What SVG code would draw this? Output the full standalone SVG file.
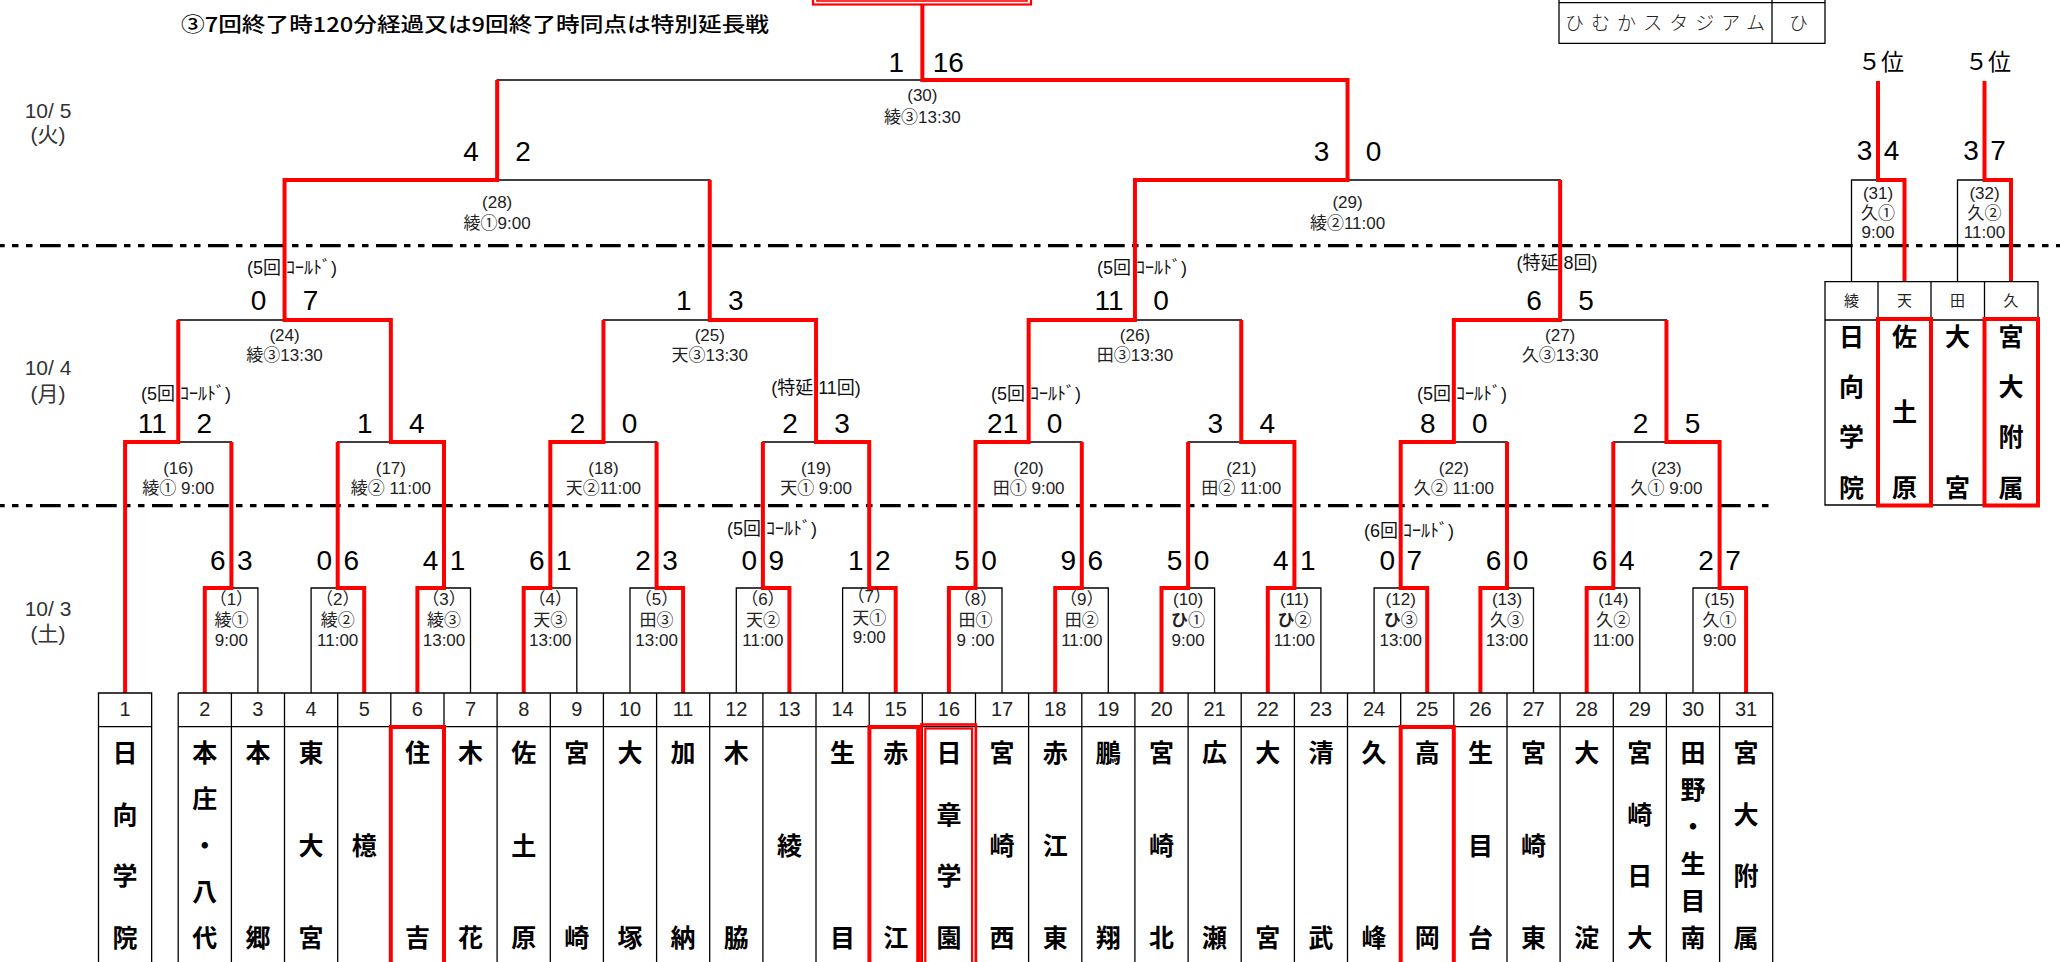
<svg xmlns="http://www.w3.org/2000/svg" width="2060" height="962" viewBox="0 0 2060 962">
<style>
.k{stroke:#000;stroke-width:1.3;fill:none}
.r{stroke:#ff0000;stroke-width:4;fill:none;stroke-linejoin:miter}
.dd{stroke:#000;stroke-width:3.3;fill:none;stroke-dasharray:20.7 7.3 6.5 7.5 6.5 7.5;stroke-dashoffset:16}
.sc{font-family:"Liberation Sans","Noto Sans CJK JP",sans-serif;font-size:28px;text-anchor:middle;fill:#000}
.lb{font-family:"Liberation Sans","Noto Sans CJK JP",sans-serif;font-size:17px;text-anchor:middle;fill:#222}
.an{font-family:"Liberation Sans","Noto Sans CJK JP",sans-serif;font-size:18px;text-anchor:middle;fill:#111}
.dt{font-family:"Liberation Sans","Noto Sans CJK JP",sans-serif;font-size:21px;text-anchor:middle;fill:#333}
.tm{font-family:"Noto Sans CJK JP",sans-serif;font-size:25px;font-weight:700;text-anchor:middle;fill:#000}
.nm{font-family:"Liberation Sans",sans-serif;font-size:20px;text-anchor:middle;fill:#222}
.hd{font-family:"Noto Sans CJK JP",sans-serif;font-size:15px;text-anchor:middle;fill:#222}
.bx{fill:none;stroke:#000;stroke-width:1.3}
.rb{fill:none;stroke:#ff0000;stroke-width:4}
</style>
<rect width="2060" height="962" fill="#fff"/>

<g id="note">
<text x="181" y="32" font-family="'Noto Sans CJK JP',sans-serif" font-size="20" font-weight="500" textLength="588" lengthAdjust="spacingAndGlyphs">③7回終了時120分経過又は9回終了時同点は特別延長戦</text>
</g>
<g id="dates">
<text class="dt" x="48" y="118">10/ 5</text><text class="dt" x="48" y="142">(火)</text>
<text class="dt" x="48" y="375">10/ 4</text><text class="dt" x="48" y="401">(月)</text>
<text class="dt" x="48" y="616">10/ 3</text><text class="dt" x="48" y="641">(土)</text>
</g>
<g id="dividers">
<line class="dd" x1="0" y1="245.7" x2="2060" y2="245.7"/>
<line class="dd" x1="0" y1="505.7" x2="1769" y2="505.7"/>
</g>

<g id="legend">
<path class="bx" d="M1559,0V43.3H1825V0M1772,0V43.3M1559,2.7H1825"/>
<text x="1565" y="30" font-family="'Noto Sans CJK JP',sans-serif" font-size="19" font-weight="300" fill="#222" textLength="200" lengthAdjust="spacing">ひむかスタジアム</text>
<text x="1798.6" y="30" font-family="'Noto Sans CJK JP',sans-serif" font-size="19" font-weight="300" fill="#222" text-anchor="middle">ひ</text>
</g>

<g id="champion">
<rect x="813" y="-30" width="218" height="34.5" fill="none" stroke="#ff0000" stroke-width="2.2"/>
<rect x="817" y="-30" width="210" height="31" fill="none" stroke="#ff0000" stroke-width="1.6"/>
</g>

<g id="connectors">
<g id="black-lines">
<path class="k" d="M204.8,693V588H257.9V693M311.1,693V588H364.2V693M417.4,693V588H470.5V693M523.7,693V588H576.8V693M630,693V588H683.1V693M736.3,693V588H789.4V693M842.6,693V588H895.7V693M948.9,693V588H1002V693M1055.2,693V588H1108.3V693M1161.5,693V588H1214.6V693M1267.8,693V588H1320.9V693M1374.1,693V588H1427.2V693M1480.4,693V588H1533.5V693M1586.7,693V588H1639.8V693M1693,693V588H1746.1V693"/>
<path class="k" d="M125.1,693V442H231.4V588M337.7,588V442H444V588M550.3,588V442H656.6V588M762.9,588V442H869.2V588M975.5,588V442H1081.8V588M1188.1,588V442H1294.4V588M1400.7,588V442H1507V588M1613.3,588V442H1719.6V588"/>
<path class="k" d="M178.25,442V320H390.85V442M603.45,442V320H816.05V442M1028.65,442V320H1241.25V442M1453.85,442V320H1666.45V442"/>
<path class="k" d="M284.55,320V180H709.75V320M1134.95,320V180H1560.15V320"/>
<path class="k" d="M497.15,180V80H1347.55V180"/>
<path class="k" d="M1851.5,281.7V180H1904.5V281.7M1957.5,281.7V180H2011V281.7"/>
</g>
<g id="red-lines">
<path class="r" d="M125.1,693V442H178.25V320"/>
<path class="r" d="M204.8,693V588H231.4V442"/>
<path class="r" d="M364.2,693V588H337.7V442"/>
<path class="r" d="M417.4,693V588H444V442H390.85V320H284.55V180H497.15V80"/>
<path class="r" d="M523.7,693V588H550.3V442H603.45V320"/>
<path class="r" d="M683.1,693V588H656.6V442"/>
<path class="r" d="M789.4,693V588H762.9V442"/>
<path class="r" d="M895.7,693V588H869.2V442H816.05V320H709.75V180"/>
<path class="r" d="M948.9,693V588H975.5V442H1028.65V320H1134.95V180H1347.55V80H922.35V4"/>
<path class="r" d="M1055.2,693V588H1081.8V442"/>
<path class="r" d="M1161.5,693V588H1188.1V442"/>
<path class="r" d="M1267.8,693V588H1294.4V442H1241.25V320"/>
<path class="r" d="M1427.2,693V588H1400.7V442H1453.85V320H1560.15V180"/>
<path class="r" d="M1480.4,693V588H1507V442"/>
<path class="r" d="M1586.7,693V588H1613.3V442"/>
<path class="r" d="M1746.1,693V588H1719.6V442H1666.45V320"/>
<path class="r" d="M1904.5,281.7V180H1878V81"/>
<path class="r" d="M2011,281.7V180H1984.5V81"/>
</g>
</g>

<g id="m1"><text class="sc" x="217.9" y="570">6</text><text class="sc" x="244.9" y="570">3</text><text class="lb" x="231.4" y="605">（1）</text><text class="lb" x="231.4" y="626">綾①</text><text class="lb" x="231.4" y="646">9:00</text></g>
<g id="m2"><text class="sc" x="324.2" y="570">0</text><text class="sc" x="351.2" y="570">6</text><text class="lb" x="337.7" y="605">（2）</text><text class="lb" x="337.7" y="626">綾②</text><text class="lb" x="337.7" y="646">11:00</text></g>
<g id="m3"><text class="sc" x="430.5" y="570">4</text><text class="sc" x="457.5" y="570">1</text><text class="lb" x="444" y="605">（3）</text><text class="lb" x="444" y="626">綾③</text><text class="lb" x="444" y="646">13:00</text></g>
<g id="m4"><text class="sc" x="536.8" y="570">6</text><text class="sc" x="563.8" y="570">1</text><text class="lb" x="550.3" y="605">（4）</text><text class="lb" x="550.3" y="626">天③</text><text class="lb" x="550.3" y="646">13:00</text></g>
<g id="m5"><text class="sc" x="643.1" y="570">2</text><text class="sc" x="670.1" y="570">3</text><text class="lb" x="656.6" y="605">（5）</text><text class="lb" x="656.6" y="626">田③</text><text class="lb" x="656.6" y="646">13:00</text></g>
<g id="m6"><text class="an" x="772" y="535">(5回 ｺｰﾙﾄﾞ)</text><text class="sc" x="749.4" y="570">0</text><text class="sc" x="776.4" y="570">9</text><text class="lb" x="762.9" y="605">（6）</text><text class="lb" x="762.9" y="626">天②</text><text class="lb" x="762.9" y="646">11:00</text></g>
<g id="m7"><text class="sc" x="855.7" y="570">1</text><text class="sc" x="882.7" y="570">2</text><text class="lb" x="869.2" y="602">（7）</text><text class="lb" x="869.2" y="624">天①</text><text class="lb" x="869.2" y="643">9:00</text></g>
<g id="m8"><text class="sc" x="962" y="570">5</text><text class="sc" x="989" y="570">0</text><text class="lb" x="975.5" y="605">（8）</text><text class="lb" x="975.5" y="626">田①</text><text class="lb" x="975.5" y="646">9 :00</text></g>
<g id="m9"><text class="sc" x="1068.3" y="570">9</text><text class="sc" x="1095.3" y="570">6</text><text class="lb" x="1081.8" y="605">（9）</text><text class="lb" x="1081.8" y="626">田②</text><text class="lb" x="1081.8" y="646">11:00</text></g>
<g id="m10"><text class="sc" x="1174.6" y="570">5</text><text class="sc" x="1201.6" y="570">0</text><text class="lb" x="1188.1" y="605">(10)</text><text class="lb" x="1188.1" y="626"><tspan font-weight="700">ひ</tspan>①</text><text class="lb" x="1188.1" y="646">9:00</text></g>
<g id="m11"><text class="sc" x="1280.9" y="570">4</text><text class="sc" x="1307.9" y="570">1</text><text class="lb" x="1294.4" y="605">(11)</text><text class="lb" x="1294.4" y="626"><tspan font-weight="700">ひ</tspan>②</text><text class="lb" x="1294.4" y="646">11:00</text></g>
<g id="m12"><text class="an" x="1409" y="536.5">(6回 ｺｰﾙﾄﾞ)</text><text class="sc" x="1387.2" y="570">0</text><text class="sc" x="1414.2" y="570">7</text><text class="lb" x="1400.7" y="605">(12)</text><text class="lb" x="1400.7" y="626"><tspan font-weight="700">ひ</tspan>③</text><text class="lb" x="1400.7" y="646">13:00</text></g>
<g id="m13"><text class="sc" x="1493.5" y="570">6</text><text class="sc" x="1520.5" y="570">0</text><text class="lb" x="1507" y="605">(13)</text><text class="lb" x="1507" y="626">久③</text><text class="lb" x="1507" y="646">13:00</text></g>
<g id="m14"><text class="sc" x="1599.8" y="570">6</text><text class="sc" x="1626.8" y="570">4</text><text class="lb" x="1613.3" y="605">(14)</text><text class="lb" x="1613.3" y="626">久②</text><text class="lb" x="1613.3" y="646">11:00</text></g>
<g id="m15"><text class="sc" x="1706.1" y="570">2</text><text class="sc" x="1733.1" y="570">7</text><text class="lb" x="1719.6" y="605">(15)</text><text class="lb" x="1719.6" y="626">久①</text><text class="lb" x="1719.6" y="646">9:00</text></g>

<g id="m16"><text class="an" x="186" y="400">(5回 ｺｰﾙﾄﾞ)</text><text class="sc" x="152.25" y="432.7">11</text><text class="sc" x="204.25" y="432.7">2</text><text class="lb" x="178.25" y="473.7">(16)</text><text class="lb" x="178.25" y="494.3">綾① 9:00</text></g>
<g id="m17"><text class="sc" x="364.85" y="432.7">1</text><text class="sc" x="416.85" y="432.7">4</text><text class="lb" x="390.85" y="473.7">(17)</text><text class="lb" x="390.85" y="494.3">綾② 11:00</text></g>
<g id="m18"><text class="sc" x="577.45" y="432.7">2</text><text class="sc" x="629.45" y="432.7">0</text><text class="lb" x="603.45" y="473.7">(18)</text><text class="lb" x="603.45" y="494.3">天②11:00</text></g>
<g id="m19"><text class="an" x="816" y="394">(特延 11回)</text><text class="sc" x="790.05" y="432.7">2</text><text class="sc" x="842.05" y="432.7">3</text><text class="lb" x="816.05" y="473.7">(19)</text><text class="lb" x="816.05" y="494.3">天① 9:00</text></g>
<g id="m20"><text class="an" x="1036" y="400">(5回 ｺｰﾙﾄﾞ)</text><text class="sc" x="1002.65" y="432.7">21</text><text class="sc" x="1054.65" y="432.7">0</text><text class="lb" x="1028.65" y="473.7">(20)</text><text class="lb" x="1028.65" y="494.3">田① 9:00</text></g>
<g id="m21"><text class="sc" x="1215.25" y="432.7">3</text><text class="sc" x="1267.25" y="432.7">4</text><text class="lb" x="1241.25" y="473.7">(21)</text><text class="lb" x="1241.25" y="494.3">田② 11:00</text></g>
<g id="m22"><text class="an" x="1462" y="400">(5回 ｺｰﾙﾄﾞ)</text><text class="sc" x="1427.85" y="432.7">8</text><text class="sc" x="1479.85" y="432.7">0</text><text class="lb" x="1453.85" y="473.7">(22)</text><text class="lb" x="1453.85" y="494.3">久② 11:00</text></g>
<g id="m23"><text class="sc" x="1640.45" y="432.7">2</text><text class="sc" x="1692.45" y="432.7">5</text><text class="lb" x="1666.45" y="473.7">(23)</text><text class="lb" x="1666.45" y="494.3">久① 9:00</text></g>

<g id="m24"><text class="an" x="292" y="274">(5回 ｺｰﾙﾄﾞ)</text><text class="sc" x="258.55" y="310">0</text><text class="sc" x="310.55" y="310">7</text><text class="lb" x="284.55" y="341">(24)</text><text class="lb" x="284.55" y="361">綾③13:30</text></g>
<g id="m25"><text class="sc" x="683.75" y="310">1</text><text class="sc" x="735.75" y="310">3</text><text class="lb" x="709.75" y="341">(25)</text><text class="lb" x="709.75" y="361">天③13:30</text></g>
<g id="m26"><text class="an" x="1142" y="274">(5回 ｺｰﾙﾄﾞ)</text><text class="sc" x="1108.95" y="310">11</text><text class="sc" x="1160.95" y="310">0</text><text class="lb" x="1134.95" y="341">(26)</text><text class="lb" x="1134.95" y="361">田③13:30</text></g>
<g id="m27"><text class="an" x="1557" y="269">(特延 8回)</text><text class="sc" x="1534.15" y="310">6</text><text class="sc" x="1586.15" y="310">5</text><text class="lb" x="1560.15" y="341">(27)</text><text class="lb" x="1560.15" y="361">久③13:30</text></g>

<g id="m28"><text class="sc" x="471.15" y="161">4</text><text class="sc" x="523.15" y="161">2</text><text class="lb" x="497.15" y="207.7">(28)</text><text class="lb" x="497.15" y="229.3">綾①9:00</text></g>
<g id="m29"><text class="sc" x="1321.55" y="161">3</text><text class="sc" x="1373.55" y="161">0</text><text class="lb" x="1347.55" y="207.7">(29)</text><text class="lb" x="1347.55" y="229.3">綾②11:00</text></g>
<g id="m30"><text class="sc" x="896.35" y="71.7">1</text><text class="sc" x="948.35" y="71.7">16</text><text class="lb" x="922.35" y="101">(30)</text><text class="lb" x="922.35" y="122.7">綾③13:30</text></g>

<g id="m31"><text x="1881" y="70" font-family="'Noto Sans CJK JP',sans-serif" font-size="23" text-anchor="middle">５位</text><text class="sc" x="1864.5" y="160">3</text><text class="sc" x="1891.5" y="160">4</text><text class="lb" x="1878" y="199">(31)</text><text class="lb" x="1878" y="219">久①</text><text class="lb" x="1878" y="238">9:00</text></g>
<g id="m32"><text x="1988" y="70" font-family="'Noto Sans CJK JP',sans-serif" font-size="23" text-anchor="middle">５位</text><text class="sc" x="1971" y="160">3</text><text class="sc" x="1998" y="160">7</text><text class="lb" x="1984.5" y="199">(32)</text><text class="lb" x="1984.5" y="219">久②</text><text class="lb" x="1984.5" y="238">11:00</text></g>

<g id="fifth-table">
<path class="bx" d="M1825,281.7H2038V505H1825ZM1825,320H2038M1878,281.7V505M1931,281.7V505M1984.5,281.7V505"/>
<text class="hd" x="1851.5" y="306">綾</text><text class="hd" x="1904.5" y="306">天</text><text class="hd" x="1957.5" y="306">田</text><text class="hd" x="2011" y="306">久</text>
<text class="tm" x="1851.5" y="346">日</text><text class="tm" x="1851.5" y="396">向</text><text class="tm" x="1851.5" y="446">学</text><text class="tm" x="1851.5" y="497">院</text>
<text class="tm" x="1904.5" y="346">佐</text><text class="tm" x="1904.5" y="421">土</text><text class="tm" x="1904.5" y="497">原</text>
<text class="tm" x="1957.5" y="346">大</text><text class="tm" x="1957.5" y="497">宮</text>
<text class="tm" x="2011" y="346">宮</text><text class="tm" x="2011" y="396">大</text><text class="tm" x="2011" y="446">附</text><text class="tm" x="2011" y="497">属</text>
<rect class="rb" x="1878" y="319" width="53" height="186.5"/>
<rect class="rb" x="1984.5" y="319" width="53.5" height="186.5"/>
</g>

<g id="team-table">
<path class="bx" d="M98.5,965V693H151.65V965M98.5,726.7H151.65"/>
<path class="bx" d="M178.2,693H1772.7M178.2,726.7H1772.7M178.2,965V693M231.4,965V693M284.5,965V693M337.7,965V693M390.8,965V693M444,965V693M497.1,965V693M550.3,965V693M603.4,965V693M656.6,965V693M709.7,965V693M762.9,965V693M816,965V693M869.2,965V693M922.3,965V693M975.5,965V693M1028.6,965V693M1081.8,965V693M1134.9,965V693M1188.1,965V693M1241.2,965V693M1294.4,965V693M1347.5,965V693M1400.7,965V693M1453.8,965V693M1507,965V693M1560.1,965V693M1613.3,965V693M1666.4,965V693M1719.6,965V693M1772.7,965V693"/>
</g>
<g id="numbers">
<text class="nm" x="125.1" y="716">1</text><text class="nm" x="204.8" y="716">2</text><text class="nm" x="257.9" y="716">3</text><text class="nm" x="311.1" y="716">4</text><text class="nm" x="364.2" y="716">5</text><text class="nm" x="417.4" y="716">6</text><text class="nm" x="470.5" y="716">7</text><text class="nm" x="523.7" y="716">8</text><text class="nm" x="576.8" y="716">9</text><text class="nm" x="630" y="716">10</text><text class="nm" x="683.1" y="716">11</text><text class="nm" x="736.3" y="716">12</text><text class="nm" x="789.4" y="716">13</text><text class="nm" x="842.6" y="716">14</text><text class="nm" x="895.7" y="716">15</text><text class="nm" x="948.9" y="716">16</text><text class="nm" x="1002" y="716">17</text><text class="nm" x="1055.2" y="716">18</text><text class="nm" x="1108.3" y="716">19</text><text class="nm" x="1161.5" y="716">20</text><text class="nm" x="1214.6" y="716">21</text><text class="nm" x="1267.8" y="716">22</text><text class="nm" x="1320.9" y="716">23</text><text class="nm" x="1374.1" y="716">24</text><text class="nm" x="1427.2" y="716">25</text><text class="nm" x="1480.4" y="716">26</text><text class="nm" x="1533.5" y="716">27</text><text class="nm" x="1586.7" y="716">28</text><text class="nm" x="1639.8" y="716">29</text><text class="nm" x="1693" y="716">30</text><text class="nm" x="1746.1" y="716">31</text>
</g>
<g id="t1"><text class="tm" x="125.1" y="762">日</text><text class="tm" x="125.1" y="823.7">向</text><text class="tm" x="125.1" y="885.3">学</text><text class="tm" x="125.1" y="947">院</text></g>
<g id="t2"><text class="tm" x="204.8" y="762">本</text><text class="tm" x="204.8" y="808.3">庄</text><text class="tm" x="204.8" y="854.5">・</text><text class="tm" x="204.8" y="900.8">八</text><text class="tm" x="204.8" y="947">代</text></g>
<g id="t3"><text class="tm" x="257.9" y="762">本</text><text class="tm" x="257.9" y="947">郷</text></g>
<g id="t4"><text class="tm" x="311.1" y="762">東</text><text class="tm" x="311.1" y="854.5">大</text><text class="tm" x="311.1" y="947">宮</text></g>
<g id="t5"><text class="tm" x="364.2" y="854.5">檍</text></g>
<g id="t6"><text class="tm" x="417.4" y="762">住</text><text class="tm" x="417.4" y="947">吉</text></g>
<g id="t7"><text class="tm" x="470.5" y="762">木</text><text class="tm" x="470.5" y="947">花</text></g>
<g id="t8"><text class="tm" x="523.7" y="762">佐</text><text class="tm" x="523.7" y="854.5">土</text><text class="tm" x="523.7" y="947">原</text></g>
<g id="t9"><text class="tm" x="576.8" y="762">宮</text><text class="tm" x="576.8" y="947">崎</text></g>
<g id="t10"><text class="tm" x="630" y="762">大</text><text class="tm" x="630" y="947">塚</text></g>
<g id="t11"><text class="tm" x="683.1" y="762">加</text><text class="tm" x="683.1" y="947">納</text></g>
<g id="t12"><text class="tm" x="736.3" y="762">木</text><text class="tm" x="736.3" y="947">脇</text></g>
<g id="t13"><text class="tm" x="789.4" y="854.5">綾</text></g>
<g id="t14"><text class="tm" x="842.6" y="762">生</text><text class="tm" x="842.6" y="947">目</text></g>
<g id="t15"><text class="tm" x="895.7" y="762">赤</text><text class="tm" x="895.7" y="947">江</text></g>
<g id="t16"><text class="tm" x="948.9" y="762">日</text><text class="tm" x="948.9" y="823.7">章</text><text class="tm" x="948.9" y="885.3">学</text><text class="tm" x="948.9" y="947">園</text></g>
<g id="t17"><text class="tm" x="1002" y="762">宮</text><text class="tm" x="1002" y="854.5">崎</text><text class="tm" x="1002" y="947">西</text></g>
<g id="t18"><text class="tm" x="1055.2" y="762">赤</text><text class="tm" x="1055.2" y="854.5">江</text><text class="tm" x="1055.2" y="947">東</text></g>
<g id="t19"><text class="tm" x="1108.3" y="762">鵬</text><text class="tm" x="1108.3" y="947">翔</text></g>
<g id="t20"><text class="tm" x="1161.5" y="762">宮</text><text class="tm" x="1161.5" y="854.5">崎</text><text class="tm" x="1161.5" y="947">北</text></g>
<g id="t21"><text class="tm" x="1214.6" y="762">広</text><text class="tm" x="1214.6" y="947">瀬</text></g>
<g id="t22"><text class="tm" x="1267.8" y="762">大</text><text class="tm" x="1267.8" y="947">宮</text></g>
<g id="t23"><text class="tm" x="1320.9" y="762">清</text><text class="tm" x="1320.9" y="947">武</text></g>
<g id="t24"><text class="tm" x="1374.1" y="762">久</text><text class="tm" x="1374.1" y="947">峰</text></g>
<g id="t25"><text class="tm" x="1427.2" y="762">高</text><text class="tm" x="1427.2" y="947">岡</text></g>
<g id="t26"><text class="tm" x="1480.4" y="762">生</text><text class="tm" x="1480.4" y="854.5">目</text><text class="tm" x="1480.4" y="947">台</text></g>
<g id="t27"><text class="tm" x="1533.5" y="762">宮</text><text class="tm" x="1533.5" y="854.5">崎</text><text class="tm" x="1533.5" y="947">東</text></g>
<g id="t28"><text class="tm" x="1586.7" y="762">大</text><text class="tm" x="1586.7" y="947">淀</text></g>
<g id="t29"><text class="tm" x="1639.8" y="762">宮</text><text class="tm" x="1639.8" y="823.7">崎</text><text class="tm" x="1639.8" y="885.3">日</text><text class="tm" x="1639.8" y="947">大</text></g>
<g id="t30"><text class="tm" x="1693" y="762">田</text><text class="tm" x="1693" y="799">野</text><text class="tm" x="1693" y="836">・</text><text class="tm" x="1693" y="873">生</text><text class="tm" x="1693" y="910">目</text><text class="tm" x="1693" y="947">南</text></g>
<g id="t31"><text class="tm" x="1746.1" y="762">宮</text><text class="tm" x="1746.1" y="823.7">大</text><text class="tm" x="1746.1" y="885.3">附</text><text class="tm" x="1746.1" y="947">属</text></g>

<g id="highlights">
<rect class="rb" x="390.8" y="727" width="53.2" height="240"/>
<rect class="rb" x="869.4" y="727" width="48.8" height="240"/>
<rect x="921.4" y="724.5" width="54.5" height="245" fill="none" stroke="#ff0000" stroke-width="2.6"/>
<rect x="925.3" y="728.5" width="46.8" height="240" fill="none" stroke="#ff0000" stroke-width="2.2"/>
<rect class="rb" x="1400.7" y="727" width="53.1" height="240"/>
</g>
</svg>
